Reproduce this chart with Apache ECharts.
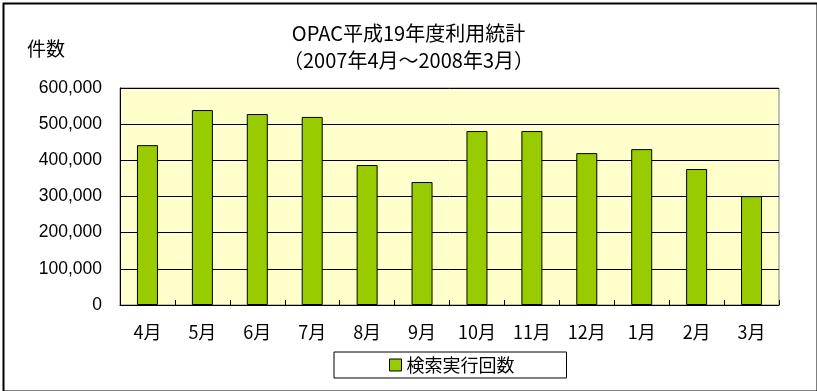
<!DOCTYPE html>
<html><head><meta charset="utf-8">
<script src="https://cdn.jsdelivr.net/npm/echarts@6/dist/echarts.min.js"></script>
<style>html,body{margin:0;padding:0;background:#fff}#c{width:817px;height:391px}</style>
</head><body><div id="c"></div>
<script>
const categories = ['4月','5月','6月','7月','8月','9月','10月','11月','12月','1月','2月','3月'];
const searchCounts = [442000, 539000, 528000, 520000, 387000, 340000, 481000, 481000, 420000, 431000, 376000, 301000];
const seriesName = '検索実行回数';
const titleText = 'OPAC平成19年度利用統計\n（2007年4月～2008年3月）';
const yAxisName = '件数';

const font = '"Noto Sans CJK JP", sans-serif';
const chart = echarts.init(document.getElementById('c'));
chart.setOption({
  animation: false,
  backgroundColor: '#fff',
  graphic: [{
    type: 'rect', left: 1, top: 1, z: 100, silent: true,
    shape: { width: 814, height: 388 },
    style: { fill: 'none', stroke: '#000', lineWidth: 2 }
  }, {
    type: 'text', left: 27, top: 39, silent: true,
    style: { text: yAxisName, font: '19px "Noto Sans CJK JP", sans-serif', fill: '#000' }
  }],
  title: {
    text: titleText, left: 'center', top: 15,
    textStyle: { fontFamily: font, fontSize: 20, fontWeight: 'normal', color: '#000', lineHeight: 27 }
  },
  legend: {
    data: [seriesName], top: 352, left: 334,
    itemWidth: 12, itemHeight: 12, itemGap: 5,
    borderColor: '#000', borderWidth: 1, padding: [4, 52, 4, 55],
    textStyle: { fontFamily: font, fontSize: 18, color: '#000' },
    icon: 'rect',
    itemStyle: { borderColor: '#000', borderWidth: 1 }
  },
  grid: {
    left: 120, right: 38, top: 88, bottom: 86,
    show: true, backgroundColor: '#FFFFCC', borderColor: '#808080', borderWidth: 1
  },
  xAxis: {
    type: 'category', data: categories,
    axisLine: { lineStyle: { color: '#000', width: 1 } },
    axisTick: { show: true, inside: true, length: 5, lineStyle: { color: '#000', width: 1 } },
    axisLabel: { fontFamily: font, fontSize: 18, color: '#000', margin: 18 }
  },
  yAxis: {
    type: 'value', min: 0, max: 600000, interval: 100000,
    axisLine: { show: true, lineStyle: { color: '#000' } },
    axisTick: { show: false },
    splitLine: { lineStyle: { color: '#000', width: 1 } },
    axisLabel: {
      fontFamily: '"Liberation Sans", sans-serif', fontSize: 17.5, color: '#000', margin: 18,
      formatter: v => v.toString().replace(/\B(?=(\d{3})+(?!\d))/g, ',')
    }
  },
  series: [{
    name: seriesName, type: 'bar', data: searchCounts,
    barWidth: 21,
    itemStyle: { color: '#99CC00', borderColor: '#000', borderWidth: 1 }
  }]
});
</script></body></html>
